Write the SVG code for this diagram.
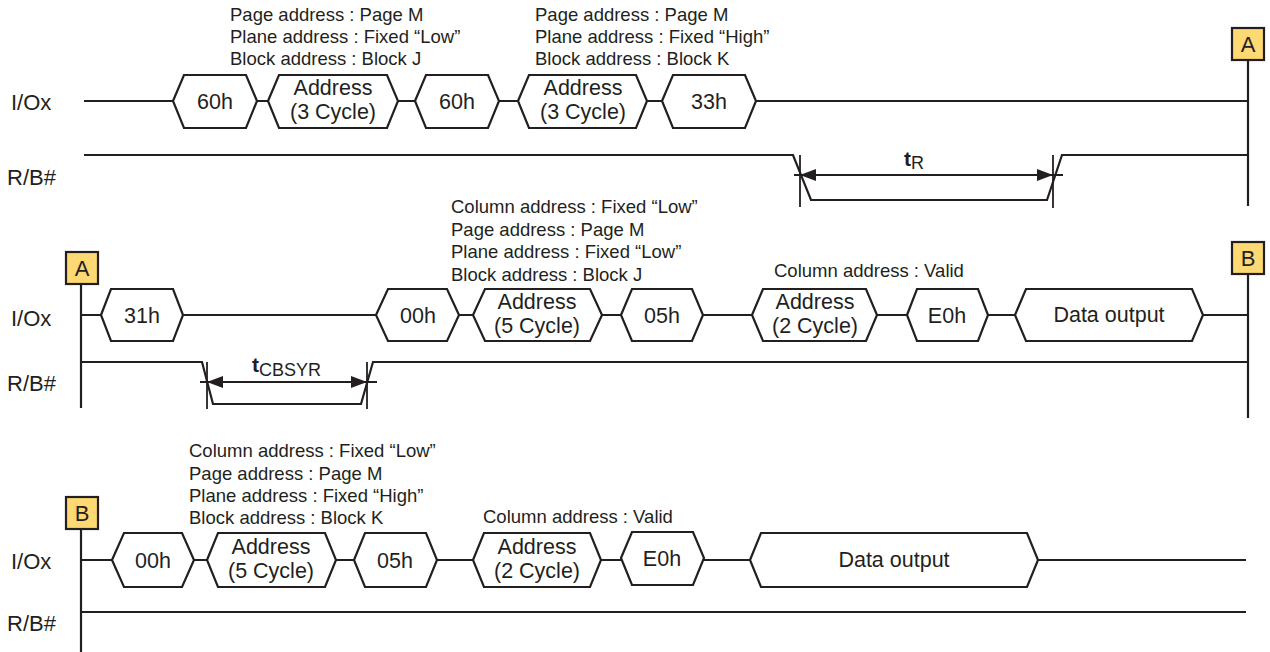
<svg xmlns="http://www.w3.org/2000/svg" width="1270" height="652" viewBox="0 0 1270 652">
<defs>
<style>
.t{font-family:"Liberation Sans",Arial,sans-serif;fill:#231f20}
.lbl{font-size:22px}
.box{font-size:21.5px;text-anchor:middle}
.ann{font-size:18.5px}
.sig{fill:none;stroke:#231f20;stroke-width:2.2}
.hex{fill:#fff;stroke:#231f20;stroke-width:2.2;stroke-linejoin:miter}
.tag{fill:#fdd873;stroke:#231f20;stroke-width:2.2}
.tick{stroke:#231f20;stroke-width:1.8}
.bold{font-weight:bold;font-size:21px}
.sub{font-size:18px}
</style>
<marker id="ah" viewBox="0 0 16 12" refX="16" refY="6" markerWidth="16" markerHeight="12" markerUnits="userSpaceOnUse" orient="auto-start-reverse">
<path d="M0,0 L16,6 L0,12 Z" fill="#231f20"/>
</marker>
</defs>
<rect width="1270" height="652" fill="#fff"/>

<!-- Row labels -->
<g id="labels">
<text class="t lbl" x="11" y="110">I/Ox</text>
<text class="t lbl" x="7" y="185">R/B#</text>
<text class="t lbl" x="11" y="326">I/Ox</text>
<text class="t lbl" x="7" y="391">R/B#</text>
<text class="t lbl" x="11" y="569">I/Ox</text>
<text class="t lbl" x="7" y="631">R/B#</text>
</g>

<!-- Connectors: signal lines, continuation lines, timing -->
<g id="connectors">
<!-- row 1 I/Ox -->
<path class="sig" d="M84,101 H173 M257,101 H268 M398,101 H415 M499,101 H518 M647,101 H662 M756,101 H1248"/>
<!-- row 1 R/B# -->
<path class="sig" d="M84,155 H793 L811,200 H1047 L1062,155 H1248"/>
<line class="sig" x1="1248" y1="60" x2="1248" y2="206"/>
<!-- tR -->
<line class="tick" x1="800" y1="155" x2="800" y2="207"/>
<line class="tick" x1="1053" y1="155" x2="1053" y2="208"/>
<line class="tick" x1="794" y1="175" x2="1063" y2="175"/>
<line class="tick" x1="830" y1="175" x2="800" y2="175" marker-end="url(#ah)"/>
<line class="tick" x1="1020" y1="175" x2="1053" y2="175" marker-end="url(#ah)"/>

<!-- row 2 I/Ox -->
<path class="sig" d="M81,315 H101 M183,315 H376 M459,315 H473 M602,315 H621 M703,315 H752 M877,315 H907 M988,315 H1015 M1203,315 H1248"/>
<!-- row 2 R/B# -->
<path class="sig" d="M81,362 H202 L213,404 H361 L373,362 H1248"/>
<line class="sig" x1="81" y1="284" x2="81" y2="408"/>
<line class="sig" x1="1248" y1="274" x2="1248" y2="418"/>
<!-- tCBSYR -->
<line class="tick" x1="207" y1="362" x2="207" y2="409"/>
<line class="tick" x1="367" y1="362" x2="367" y2="409"/>
<line class="tick" x1="200" y1="382" x2="377" y2="382"/>
<line class="tick" x1="237" y1="382" x2="207" y2="382" marker-end="url(#ah)"/>
<line class="tick" x1="337" y1="382" x2="367" y2="382" marker-end="url(#ah)"/>

<!-- row 3 I/Ox -->
<path class="sig" d="M81,560 H112 M194,560 H207 M336,560 H354 M437,560 H473 M601,560 H621 M704,560 H750 M1038,560 H1246"/>
<!-- row 3 R/B# -->
<path class="sig" d="M81,612 H1246"/>
<line class="sig" x1="81" y1="529" x2="81" y2="652"/>
</g>

<!-- timing labels -->
<g id="tR">
<text class="t bold" x="904" y="166">t<tspan class="sub" font-weight="normal" dy="3">R</tspan></text>
</g>
<g id="tCBSYR">
<text class="t bold" x="252" y="372">t<tspan class="sub" font-weight="normal" dy="4">CBSYR</tspan></text>
</g>

<!-- Connector tags -->
<g id="tagA1"><rect class="tag" x="1232" y="28" width="32" height="32"/><text class="t lbl" x="1248" y="52" text-anchor="middle">A</text></g>
<g id="tagA2"><rect class="tag" x="66" y="252" width="32" height="32"/><text class="t lbl" x="82" y="276" text-anchor="middle">A</text></g>
<g id="tagB1"><rect class="tag" x="1232" y="242" width="32" height="32"/><text class="t lbl" x="1248" y="266" text-anchor="middle">B</text></g>
<g id="tagB2"><rect class="tag" x="66" y="497" width="32" height="32"/><text class="t lbl" x="82" y="521" text-anchor="middle">B</text></g>

<!-- Row 1 nodes -->
<g id="r1_60h_a"><polygon class="hex" points="173,101 184,75 246,75 257,101 246,128 184,128"/><text class="t box" x="215" y="109">60h</text></g>
<g id="r1_addr_a"><polygon class="hex" points="268,101 279,75 387,75 398,101 387,128 279,128"/><text class="t box" x="333" y="95">Address</text><text class="t box" x="333" y="119">(3 Cycle)</text></g>
<g id="r1_60h_b"><polygon class="hex" points="415,101 426,75 488,75 499,101 488,128 426,128"/><text class="t box" x="457" y="109">60h</text></g>
<g id="r1_addr_b"><polygon class="hex" points="518,101 529,75 636,75 647,101 636,128 529,128"/><text class="t box" x="583" y="95">Address</text><text class="t box" x="583" y="119">(3 Cycle)</text></g>
<g id="r1_33h"><polygon class="hex" points="662,101 673,75 745,75 756,101 745,128 673,128"/><text class="t box" x="709" y="109">33h</text></g>
<g id="r1_ann1">
<text class="t ann" x="230" y="21">Page address : Page M</text>
<text class="t ann" x="230" y="43">Plane address : Fixed “Low”</text>
<text class="t ann" x="230" y="65">Block address : Block J</text>
</g>
<g id="r1_ann2">
<text class="t ann" x="535" y="21">Page address : Page M</text>
<text class="t ann" x="535" y="43">Plane address : Fixed “High”</text>
<text class="t ann" x="535" y="65">Block address : Block K</text>
</g>

<!-- Row 2 nodes -->
<g id="r2_31h"><polygon class="hex" points="101,315 111,289 173,289 183,315 173,341 111,341"/><text class="t box" x="142" y="323">31h</text></g>
<g id="r2_00h"><polygon class="hex" points="376,315 388,289 447,289 459,315 447,341 388,341"/><text class="t box" x="418" y="323">00h</text></g>
<g id="r2_addr5"><polygon class="hex" points="473,315 485,289 590,289 602,315 590,341 485,341"/><text class="t box" x="537" y="309">Address</text><text class="t box" x="537" y="333">(5 Cycle)</text></g>
<g id="r2_05h"><polygon class="hex" points="621,315 632,289 692,289 703,315 692,341 632,341"/><text class="t box" x="662" y="323">05h</text></g>
<g id="r2_addr2"><polygon class="hex" points="752,315 763,289 866,289 877,315 866,341 763,341"/><text class="t box" x="815" y="309">Address</text><text class="t box" x="815" y="333">(2 Cycle)</text></g>
<g id="r2_E0h"><polygon class="hex" points="907,315 917,289 978,289 988,315 978,341 917,341"/><text class="t box" x="947" y="323">E0h</text></g>
<g id="r2_data"><polygon class="hex" points="1015,315 1026,289 1192,289 1203,315 1192,341 1026,341"/><text class="t box" x="1109" y="322">Data output</text></g>
<g id="r2_ann1">
<text class="t ann" x="451" y="213">Column address : Fixed “Low”</text>
<text class="t ann" x="451" y="236">Page address : Page M</text>
<text class="t ann" x="451" y="258">Plane address : Fixed “Low”</text>
<text class="t ann" x="451" y="281">Block address : Block J</text>
</g>
<g id="r2_ann2"><text class="t ann" x="774" y="277">Column address : Valid</text></g>

<!-- Row 3 nodes -->
<g id="r3_00h"><polygon class="hex" points="112,560 124,533 182,533 194,560 182,587 124,587"/><text class="t box" x="153" y="568">00h</text></g>
<g id="r3_addr5"><polygon class="hex" points="207,560 218,533 325,533 336,560 325,587 218,587"/><text class="t box" x="271" y="554">Address</text><text class="t box" x="271" y="578">(5 Cycle)</text></g>
<g id="r3_05h"><polygon class="hex" points="354,560 365,533 426,533 437,560 426,587 365,587"/><text class="t box" x="395" y="568">05h</text></g>
<g id="r3_addr2"><polygon class="hex" points="473,560 484,533 590,533 601,560 590,587 484,587"/><text class="t box" x="537" y="554">Address</text><text class="t box" x="537" y="578">(2 Cycle)</text></g>
<g id="r3_E0h"><polygon class="hex" points="621,558 632,532 693,532 704,558 693,585 632,585"/><text class="t box" x="662" y="566">E0h</text></g>
<g id="r3_data"><polygon class="hex" points="750,560 761,533 1027,533 1038,560 1027,587 761,587"/><text class="t box" x="894" y="567">Data output</text></g>
<g id="r3_ann1">
<text class="t ann" x="189" y="457">Column address : Fixed “Low”</text>
<text class="t ann" x="189" y="480">Page address : Page M</text>
<text class="t ann" x="189" y="502">Plane address : Fixed “High”</text>
<text class="t ann" x="189" y="524">Block address : Block K</text>
</g>
<g id="r3_ann2"><text class="t ann" x="483" y="523">Column address : Valid</text></g>
</svg>
